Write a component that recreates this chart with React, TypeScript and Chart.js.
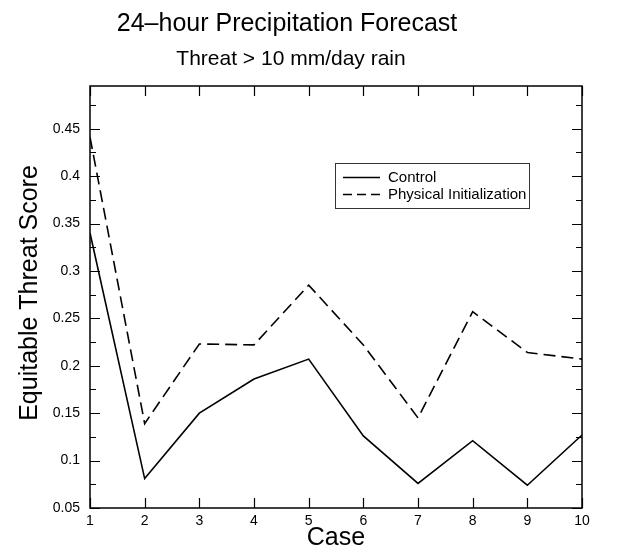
import React, { useEffect, useRef } from 'react';
import { Chart, registerables } from 'chart.js';

Chart.register(...registerables);

const cases = [1, 2, 3, 4, 5, 6, 7, 8, 9, 10];
const controlScores = [0.34, 0.081, 0.15, 0.186, 0.207, 0.126, 0.076, 0.121, 0.074, 0.127];
const physicalInitScores = [0.441, 0.139, 0.223, 0.222, 0.285, 0.222, 0.145, 0.257, 0.214, 0.207];
const yMajorTicks = [0.05, 0.1, 0.15, 0.2, 0.25, 0.3, 0.35, 0.4, 0.45];
const yTickLabels = ['0.05', '0.1', '0.15', '0.2', '0.25', '0.3', '0.35', '0.4', '0.45'];
const yMinorTicks = [0.075, 0.125, 0.175, 0.225, 0.275, 0.325, 0.375, 0.425, 0.475];
const seriesNames = ['Control', 'Physical Initialization'];
const titleText = '24\u2013hour Precipitation Forecast';
const subtitleText = 'Threat > 10 mm/day rain';
const xTitleText = 'Case';
const yTitleText = 'Equitable Threat Score';

const FONT = '"Liberation Sans", Arial, Helvetica, sans-serif';

const framePlugin = {
  id: 'frame',
  afterDraw(chart: any) {
    const { ctx, chartArea: a, scales } = chart;
    const xs = scales.x;
    const ys = scales.y;
    ctx.save();
    ctx.strokeStyle = '#000';
    ctx.fillStyle = '#000';
    ctx.lineWidth = 1.5;
    ctx.strokeRect(a.left, a.top, a.right - a.left, a.bottom - a.top);

    ctx.lineWidth = 1.2;
    ctx.beginPath();
    for (const c of cases) {
      const px = Math.round(xs.getPixelForValue(c)) + 0.5;
      ctx.moveTo(px, a.bottom);
      ctx.lineTo(px, a.bottom - 10);
      ctx.moveTo(px, a.top);
      ctx.lineTo(px, a.top + 10);
    }
    for (const v of yMajorTicks) {
      const py = Math.round(ys.getPixelForValue(v)) + 0.5;
      ctx.moveTo(a.left, py);
      ctx.lineTo(a.left + 10, py);
      ctx.moveTo(a.right, py);
      ctx.lineTo(a.right - 10, py);
    }
    for (const v of yMinorTicks) {
      const py = Math.round(ys.getPixelForValue(v)) + 0.5;
      ctx.moveTo(a.left, py);
      ctx.lineTo(a.left + 6, py);
      ctx.moveTo(a.right, py);
      ctx.lineTo(a.right - 6, py);
    }
    ctx.stroke();

    // titles
    ctx.textAlign = 'center';
    ctx.textBaseline = 'alphabetic';
    ctx.font = `25px ${FONT}`;
    ctx.fillText(titleText, 287, 31);
    ctx.font = `21px ${FONT}`;
    ctx.fillText(subtitleText, 291, 65);
    ctx.font = `25px ${FONT}`;
    ctx.fillText(xTitleText, 336, 545);
    ctx.save();
    ctx.translate(37, 293);
    ctx.rotate(-Math.PI / 2);
    ctx.font = `25px ${FONT}`;
    ctx.fillText(yTitleText, 0, 0);
    ctx.restore();

    // legend
    const lx = 335, ly = 163, lw = 194, lh = 45;
    ctx.lineWidth = 1;
    ctx.strokeStyle = '#333';
    ctx.strokeRect(lx + 0.5, ly + 0.5, lw, lh);
    ctx.font = `15px ${FONT}`;
    ctx.textAlign = 'left';
    chart.data.datasets.forEach((ds: any, i: number) => {
      const yy = ly + 14 + i * 17;
      ctx.strokeStyle = ds.borderColor;
      ctx.lineWidth = ds.borderWidth;
      ctx.setLineDash(i === 1 ? [9, 5] : []);
      ctx.beginPath();
      ctx.moveTo(lx + 8, yy + 0.5);
      ctx.lineTo(lx + 45, yy + 0.5);
      ctx.stroke();
      ctx.setLineDash([]);
      ctx.fillStyle = '#000';
      ctx.fillText(ds.label, lx + 53, yy + 5);
    });
    ctx.restore();
  },
};

export default function App() {
  const ref = useRef<HTMLCanvasElement | null>(null);
  useEffect(() => {
    if (!ref.current) return;
    const chart = new Chart(ref.current, {
      type: 'line',
      data: {
        datasets: [
          {
            label: seriesNames[0],
            data: cases.map((c, i) => ({ x: c, y: controlScores[i] })),
            borderColor: '#000',
            borderWidth: 1.6,
            pointRadius: 0,
            tension: 0,
            fill: false,
          },
          {
            label: seriesNames[1],
            data: cases.map((c, i) => ({ x: c, y: physicalInitScores[i] })),
            borderColor: '#000',
            borderWidth: 1.6,
            borderDash: [12, 6],
            pointRadius: 0,
            tension: 0,
            fill: false,
          },
        ],
      },
      options: {
        animation: false,
        responsive: false,
        maintainAspectRatio: false,
        layout: { padding: { top: 86, right: 41, left: 0, bottom: 0 } },
        plugins: { legend: { display: false }, title: { display: false }, tooltip: { enabled: false } },
        scales: {
          x: {
            type: 'linear',
            min: 1,
            max: 10,
            grid: { display: false, drawTicks: false },
            border: { display: false },
            afterBuildTicks: (s: any) => {
              s.ticks = cases.map((v) => ({ value: v }));
            },
            afterFit: (s: any) => {
              s.height = 41;
            },
            ticks: {
              padding: 5,
              color: '#000',
              maxRotation: 0,
              autoSkip: false,
              font: { family: FONT, size: 14 },
              callback: (v: any) => String(v),
            },
          },
          y: {
            type: 'linear',
            min: 0.05,
            max: 0.495,
            grid: { display: false, drawTicks: false },
            border: { display: false },
            afterBuildTicks: (s: any) => {
              s.ticks = yMajorTicks.map((v) => ({ value: v }));
            },
            afterFit: (s: any) => {
              s.width = 90;
            },
            ticks: {
              padding: 10,
              color: '#000',
              autoSkip: false,
              font: { family: FONT, size: 14 },
              callback: (v: any) => {
                const i = yMajorTicks.findIndex((t) => Math.abs(t - v) < 1e-6);
                return i >= 0 ? yTickLabels[i] : '';
              },
            },
          },
        },
      },
      plugins: [framePlugin],
    });
    return () => chart.destroy();
  }, []);
  return (
    <div style={{ position: 'fixed', left: 0, top: 0, width: 623, height: 549, background: '#fff' }}>
      <canvas ref={ref} width={623} height={549} style={{ width: 623, height: 549, display: 'block' }} />
    </div>
  );
}
